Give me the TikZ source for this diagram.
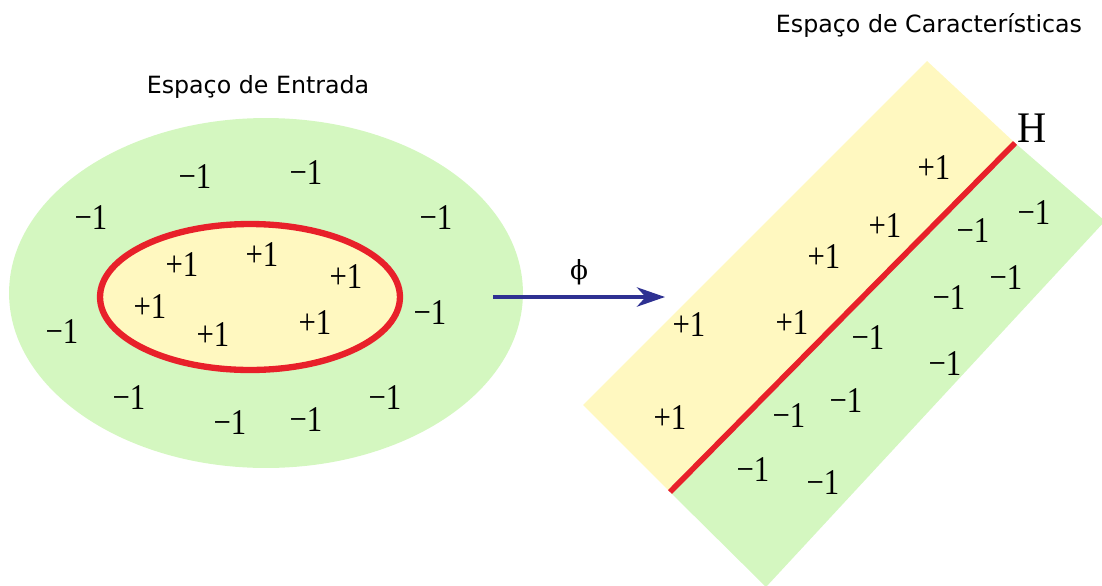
\documentclass[tikz,border=0pt]{standalone}
\usepackage{fontspec}
\setmainfont{Liberation Serif}
\newfontfamily\labelfont{DejaVu Sans}
\newfontfamily\phifont{DejaVu Serif}
\usetikzlibrary{shapes.geometric,arrows.meta}
\definecolor{regiongreen}{HTML}{D4F7C0}
\definecolor{regionyellow}{HTML}{FFF8C0}
\definecolor{boundred}{HTML}{E8202A}
\definecolor{arrowblue}{HTML}{2E3192}
\newcommand\tallnum[1]{\scalebox{1}[1.18]{#1}}
\begin{document}
\begin{tikzpicture}[x=0.02cm,y=-0.02cm,
  title/.style={font=\labelfont\fontsize{13.5pt}{16pt}\selectfont, inner sep=0},
  num/.style={font=\fontsize{17.5pt}{20pt}\selectfont, inner sep=0},
  region/.style={ellipse, inner sep=0, outer sep=0}
]
\useasboundingbox (0,0) rectangle (1102,585);

% ---------- input space ----------
\node[region, fill=regiongreen, minimum width=10.28cm, minimum height=7cm] (outer) at (266,293) {};
\node[region, draw=boundred, line width=3.6pt, fill=regionyellow, minimum width=6cm, minimum height=2.92cm] (inner) at (250,297) {};
\node[title] (tin) at (258,87) {Espaço de Entrada};

\node[num] (n1) at (195,177) {\tallnum{−1}};
\node[num] (n2) at (306,173) {\tallnum{−1}};
\node[num] (n3) at (91,218) {\tallnum{−1}};
\node[num] (n4) at (436,218) {\tallnum{−1}};
\node[num] (n5) at (62,332) {\tallnum{−1}};
\node[num] (n6) at (430,313) {\tallnum{−1}};
\node[num] (n7) at (129,398) {\tallnum{−1}};
\node[num] (n8) at (230,423) {\tallnum{−1}};
\node[num] (n9) at (306,420) {\tallnum{−1}};
\node[num] (n10) at (385,398) {\tallnum{−1}};

\node[num] (p1) at (182,265) {\tallnum{+1}};
\node[num] (p2) at (262,255) {\tallnum{+1}};
\node[num] (p3) at (346,277) {\tallnum{+1}};
\node[num] (p4) at (150,307) {\tallnum{+1}};
\node[num] (p5) at (213,335) {\tallnum{+1}};
\node[num] (p6) at (315,323) {\tallnum{+1}};

% ---------- mapping ----------
\coordinate (phistart) at (493,297);
\coordinate (phiend) at (665,297);
\draw[arrowblue, line width=2pt, -{Stealth[length=16pt,width=11pt,inset=5pt]}] (phistart) -- (phiend);
\node[inner sep=0, font=\phifont\fontsize{15pt}{18pt}\selectfont] (phi) at (579,272) {ϕ};

% ---------- feature space ----------
\begin{scope}
\clip (0,0) rectangle (1102,585);
\fill[regionyellow] (583,405) -- (927,61) -- (1015,143) -- (670,492) -- cycle;
\fill[regiongreen] (670,492) -- (1015,143) -- (1105,221) -- (766,587) -- cycle;
\end{scope}
\coordinate (hlow) at (670,492);
\coordinate (hhigh) at (1015,143);
\draw[boundred, line width=3.2pt] (hlow) -- (hhigh);
\node[inner sep=0, font=\fontsize{23pt}{26pt}\selectfont] (H) at (1032,128) {\scalebox{1}[1.08]{H}};
\node[title] (tout) at (929,25) {Espaço de Características};

\node[num] (q1) at (934,168) {\tallnum{+1}};
\node[num] (q2) at (885,226) {\tallnum{+1}};
\node[num] (q3) at (824,257) {\tallnum{+1}};
\node[num] (q4) at (689,325) {\tallnum{+1}};
\node[num] (q5) at (792,323) {\tallnum{+1}};
\node[num] (q6) at (670,418) {\tallnum{+1}};

\node[num] (m1) at (973,231) {\tallnum{−1}};
\node[num] (m2) at (1034,213) {\tallnum{−1}};
\node[num] (m3) at (1006,278) {\tallnum{−1}};
\node[num] (m4) at (949,298) {\tallnum{−1}};
\node[num] (m5) at (868,338) {\tallnum{−1}};
\node[num] (m6) at (945,364) {\tallnum{−1}};
\node[num] (m7) at (846,401) {\tallnum{−1}};
\node[num] (m8) at (789,416) {\tallnum{−1}};
\node[num] (m9) at (753,470) {\tallnum{−1}};
\node[num] (m10) at (823,483) {\tallnum{−1}};
\end{tikzpicture}
\end{document}
